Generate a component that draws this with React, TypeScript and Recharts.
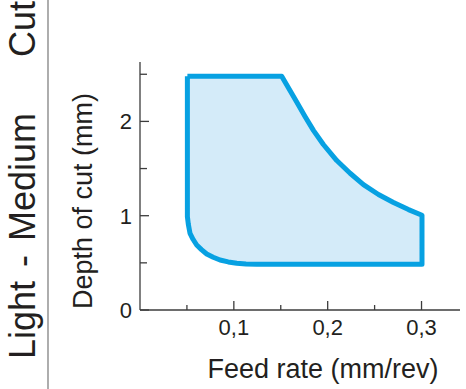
import React from 'react';
import {
  ComposedChart,
  Area,
  Line,
  XAxis,
  YAxis,
} from 'recharts';

// feed rate (mm/rev) sampled along the working window
const feedRate = [
  0.0505, 0.0515, 0.0533, 0.0565, 0.0604, 0.0655, 0.0711, 0.078, 0.0853, 0.094,
  0.1031, 0.113, 0.1244, 0.151, 0.16, 0.167, 0.176, 0.1848, 0.1954, 0.2097,
  0.2239, 0.2381, 0.2541, 0.2701, 0.2861, 0.3005,
];
// lower limit of depth of cut (mm)
const depthMin = [
  0.99, 0.91, 0.813, 0.75, 0.689, 0.64, 0.594, 0.56, 0.53, 0.51,
  0.495, 0.488, 0.485, 0.485, 0.485, 0.485, 0.485, 0.485, 0.485, 0.485,
  0.485, 0.485, 0.485, 0.485, 0.485, 0.485,
];
// upper limit of depth of cut (mm)
const depthMax = [
  2.48, 2.48, 2.48, 2.48, 2.48, 2.48, 2.48, 2.48, 2.48, 2.48,
  2.48, 2.48, 2.48, 2.48, 2.325, 2.205, 2.05, 1.905, 1.755, 1.585,
  1.45, 1.33, 1.225, 1.14, 1.065, 1.005,
];

const xTicks = [0.05, 0.1, 0.15, 0.2, 0.25, 0.3];
const yTicks = [0, 0.5, 1, 1.5, 2, 2.5];

const BLUE = '#07a1e2';
const FILL = '#d4ebf9';
const AXIS = '#3c3c3c';
const TEXT = '#231f20';
const FONT = '"Liberation Sans", Arial, sans-serif';

const bandData = feedRate.map((x, i) => ({ x, low: depthMin[i], high: depthMax[i] }));

// closed outline: top edge left→right, bottom edge right→left, back to start
const outline = [
  ...feedRate.map((x, i) => ({ x, y: depthMax[i] })),
  ...feedRate.map((x, i) => ({ x, y: depthMin[i] })).reverse(),
  { x: feedRate[0], y: depthMax[0] },
];

const XTick = (props: any) => {
  const { x, y, payload } = props;
  const major = Math.round(payload.value * 100) % 10 === 0;
  return (
    <g>
      <line x1={x} x2={x} y1={y} y2={y - (major ? 9 : 5)} stroke={AXIS} strokeWidth={1.3} />
      {major && (
        <text x={x} y={y + 25} textAnchor="middle" fontSize={22} fill={TEXT} fontFamily={FONT}>
          {payload.value.toFixed(1).replace('.', ',')}
        </text>
      )}
    </g>
  );
};

const YTick = (props: any) => {
  const { x, y, payload } = props;
  const major = Number.isInteger(payload.value);
  return (
    <g>
      <line x1={x} x2={x + (major ? 9 : 7)} y1={y} y2={y} stroke={AXIS} strokeWidth={1.3} />
      {major && (
        <text x={x - 8} y={y + 8} textAnchor="end" fontSize={22} fill={TEXT} fontFamily={FONT}>
          {payload.value}
        </text>
      )}
    </g>
  );
};

const XTitle = (props: any) => {
  const { x, y, width } = props.viewBox;
  return (
    <text x={x + width / 2 + 23} y={y + 68} textAnchor="middle" fontSize={27} fill={TEXT} fontFamily={FONT}>
      Feed rate (mm/rev)
    </text>
  );
};

const YTitle = () => (
  <text
    x={92}
    y={201}
    transform="rotate(-90, 92, 201)"
    textAnchor="middle"
    fontSize={27}
    fill={TEXT}
    fontFamily={FONT}
  >
    Depth of cut (mm)
  </text>
);

export default function App() {
  return (
    <div style={{ position: 'absolute', left: 0, top: 0, width: 466, height: 389, background: '#fff' }}>
      <svg width={466} height={389} style={{ position: 'absolute', left: 0, top: 0 }}>
        <text
          x={35}
          y={359}
          transform="rotate(-90, 35, 359)"
          fontSize={36}
          fill={TEXT}
          fontFamily={FONT}
          wordSpacing={4}
        >
          Light - Medium
        </text>
        <text
          x={35}
          y={57}
          transform="rotate(-90, 35, 57)"
          fontSize={36}
          fill={TEXT}
          fontFamily={FONT}
        >
          Cut
        </text>
        <line x1={48} x2={48} y1={0} y2={389} stroke="#777" strokeWidth={1.2} />
      </svg>
      <div style={{ position: 'absolute', left: 0, top: 0 }}>
        <ComposedChart width={466} height={389} margin={{ top: 62, right: 6, bottom: 0, left: 80 }}>
          <XAxis
            type="number"
            dataKey="x"
            domain={[0, 0.341]}
            ticks={xTicks}
            interval={0}
            tickSize={0}
            tickMargin={0}
            tick={<XTick />}
            axisLine={{ stroke: AXIS, strokeWidth: 1.3 }}
            tickLine={false}
            height={79}
            allowDataOverflow
            label={<XTitle />}
          />
          <YAxis
            type="number"
            domain={[0, 2.63]}
            ticks={yTicks}
            interval={0}
            tickSize={0}
            tickMargin={0}
            tick={<YTick />}
            axisLine={{ stroke: AXIS, strokeWidth: 1.3 }}
            tickLine={false}
            width={60}
            allowDataOverflow
            label={<YTitle />}
          />
          <Area
            data={bandData}
            dataKey={(d: any) => [d.low, d.high]}
            type="linear"
            stroke="none"
            fill={FILL}
            fillOpacity={1}
            isAnimationActive={false}
          />
          <Line
            data={outline}
            dataKey="y"
            type="linear"
            stroke={BLUE}
            strokeWidth={5}
            strokeLinejoin="round"
            dot={false}
            activeDot={false}
            isAnimationActive={false}
          />
        </ComposedChart>
      </div>
    </div>
  );
}
